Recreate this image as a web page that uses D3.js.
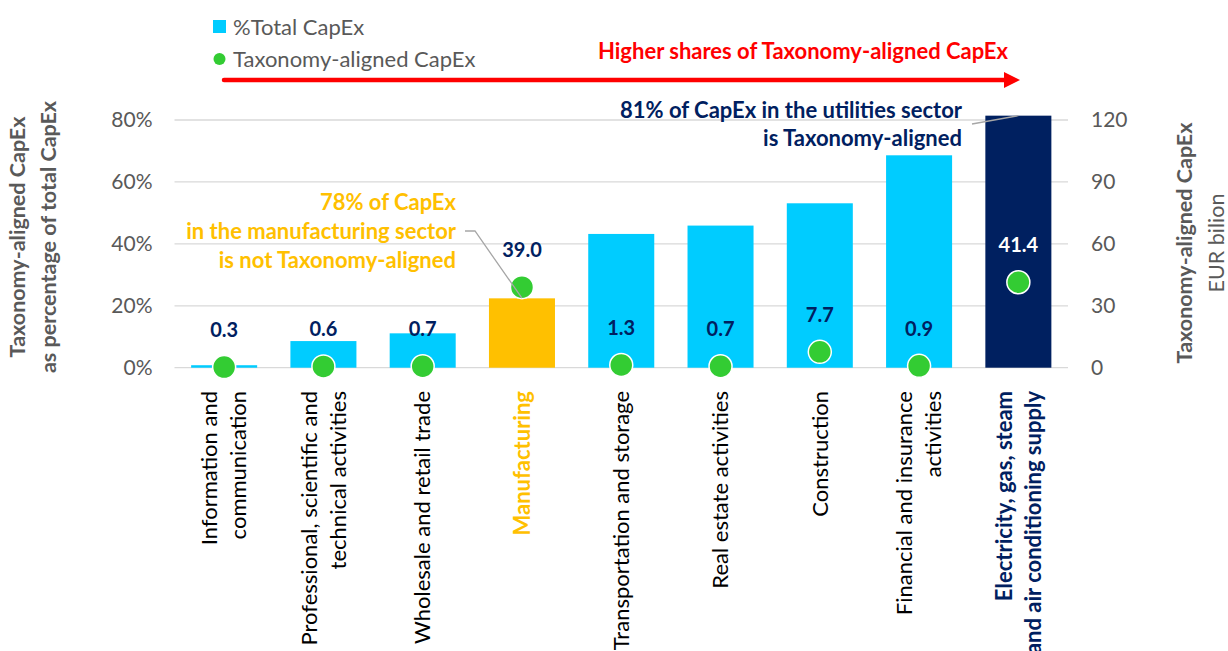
<!DOCTYPE html>
<html>
<head>
<meta charset="utf-8">
<script src="https://cdn.jsdelivr.net/npm/d3@7"></script>
<style>
  html, body { margin: 0; padding: 0; background: #fff; }
  svg { display: block; font-family: "Lato", "Open Sans", sans-serif; }
</style>
</head>
<body>
<svg id="chart" width="1228" height="651"></svg>
<script>
// ---------- DATA ----------
const categories = [
  "Information and communication",
  "Professional, scientific and technical activities",
  "Wholesale and retail trade",
  "Manufacturing",
  "Transportation and storage",
  "Real estate activities",
  "Construction",
  "Financial and insurance activities",
  "Electricity, gas, steam and air conditioning supply"
];
const categoryLines = [
  ["Information and", "communication"],
  ["Professional, scientific and", "technical activities"],
  ["Wholesale and retail trade"],
  ["Manufacturing"],
  ["Transportation and storage"],
  ["Real estate activities"],
  ["Construction"],
  ["Financial and insurance", "activities"],
  ["Electricity, gas, steam", "and air conditioning supply"]
];
// Taxonomy-aligned CapEx as % of total CapEx (bars, left axis)
const pctTotalCapEx = [0.8, 8.6, 11.1, 22.4, 43.2, 45.9, 53.1, 68.6, 81.4];
// Taxonomy-aligned CapEx, EUR billion (dots, right axis)
const alignedCapExEUR = [0.3, 0.6, 0.7, 39.0, 1.3, 0.7, 7.7, 0.9, 41.4];
const leftTicks = [0, 20, 40, 60, 80];
const rightTicks = [0, 30, 60, 90, 120];
const highlight = ["", "", "", "manufacturing", "", "", "", "", "utilities"];

// ---------- STYLE ----------
const C = {
  cyan: "#00ccff", orange: "#ffc000", navy: "#002060", green: "#33cc33",
  red: "#ff0000", axis: "#595959", grid: "#d9d9d9", lead: "#a6a6a6"
};

const svg = d3.select("#chart");
const plot = { left: 174.5, right: 1068, top: 120, bottom: 367.7 };

const x = d3.scaleBand().domain(categories).range([plot.left, plot.right]).paddingInner(0.335).paddingOuter(0.1675);
const yL = d3.scaleLinear().domain([0, 80]).range([plot.bottom, plot.top]);
const yR = d3.scaleLinear().domain([0, 120]).range([plot.bottom, plot.top]);

// gridlines
svg.append("g").selectAll("line").data(leftTicks).join("line")
  .attr("x1", plot.left).attr("x2", plot.right)
  .attr("y1", d => yL(d)).attr("y2", d => yL(d))
  .attr("stroke", C.grid).attr("stroke-width", 1.3);

// left axis
const gL = svg.append("g").attr("transform", `translate(${plot.left - 22},0)`)
  .call(d3.axisLeft(yL).tickValues(leftTicks).tickFormat(d => d + "%").tickSize(0).tickPadding(0));
gL.select(".domain").remove();
gL.selectAll("text").attr("fill", C.axis).style("font-size", "21px").style("font-family", "Lato");

// right axis
const gR = svg.append("g").attr("transform", `translate(${plot.right + 23},0)`)
  .call(d3.axisRight(yR).tickValues(rightTicks).tickSize(0).tickPadding(0));
gR.select(".domain").remove();
gR.selectAll("text").attr("fill", C.axis).style("font-size", "21px").style("font-family", "Lato");

// bars
const barColor = i => highlight[i] === "manufacturing" ? C.orange : highlight[i] === "utilities" ? C.navy : C.cyan;
svg.append("g").selectAll("rect").data(categories).join("rect")
  .attr("x", d => x(d)).attr("width", x.bandwidth())
  .attr("y", (d, i) => yL(pctTotalCapEx[i]))
  .attr("height", (d, i) => yL(0) - yL(pctTotalCapEx[i]))
  .attr("fill", (d, i) => barColor(i));

// dots
svg.append("g").selectAll("circle").data(categories).join("circle")
  .attr("cx", d => x(d) + x.bandwidth() / 2)
  .attr("cy", (d, i) => yR(alignedCapExEUR[i]))
  .attr("r", 11.5)
  .attr("fill", C.green).attr("stroke", "#fff").attr("stroke-width", 1.5);

// value labels
svg.append("g").selectAll("text").data(categories).join("text")
  .attr("x", d => x(d) + x.bandwidth() / 2)
  .attr("y", (d, i) => yR(alignedCapExEUR[i]) - 37)
  .attr("dy", "0.35em")
  .attr("text-anchor", "middle")
  .attr("fill", (d, i) => highlight[i] === "utilities" ? "#ffffff" : C.navy)
  .style("font-size", "20px").style("font-weight", "bold")
  .text((d, i) => alignedCapExEUR[i].toFixed(1));

// category labels (rotated)
const lh = 29;
const catG = svg.append("g").selectAll("g").data(categories).join("g")
  .attr("transform", d => `translate(${x(d) + x.bandwidth() / 2},391) rotate(-90)`);
catG.each(function (d, i) {
  const lines = categoryLines[i];
  const t = d3.select(this).append("text")
    .attr("text-anchor", "end")
    .attr("fill", highlight[i] === "manufacturing" ? C.orange : highlight[i] === "utilities" ? C.navy : "#000")
    .style("font-size", "22px")
    .style("font-weight", highlight[i] ? "bold" : "normal");
  lines.forEach((ln, k) => {
    t.append("tspan").attr("x", 0)
      .attr("y", (k - (lines.length - 1) / 2) * lh)
      .attr("dy", "0.35em").text(ln);
  });
});

// axis titles
const titleL = svg.append("text").attr("transform", "translate(25,237) rotate(-90)")
  .attr("text-anchor", "middle").attr("fill", C.axis)
  .style("font-size", "21.5px").style("font-weight", "bold");
titleL.append("tspan").attr("x", 0).attr("y", 0).text("Taxonomy-aligned CapEx");
titleL.append("tspan").attr("x", 0).attr("y", 31).text("as percentage of total CapEx");

const titleR = svg.append("text").attr("transform", "translate(1192,243) rotate(-90)")
  .attr("text-anchor", "middle").attr("fill", C.axis).style("font-size", "21.5px");
titleR.append("tspan").attr("x", 0).attr("y", 0).style("font-weight", "bold").text("Taxonomy-aligned CapEx");
titleR.append("tspan").attr("x", 0).attr("y", 32).style("font-weight", "normal").text("EUR  bilion");

// legend
const leg = svg.append("g");
leg.append("rect").attr("x", 213).attr("y", 20).attr("width", 13).attr("height", 13).attr("fill", C.cyan);
leg.append("text").attr("x", 233).attr("y", 27).attr("dy", "0.35em").attr("fill", C.axis)
  .style("font-size", "22px").text("%Total CapEx");
leg.append("circle").attr("cx", 219.5).attr("cy", 59).attr("r", 6).attr("fill", C.green);
leg.append("text").attr("x", 233).attr("y", 59).attr("dy", "0.35em").attr("fill", C.axis)
  .style("font-size", "22px").text("Taxonomy-aligned CapEx");

// red arrow
svg.append("line").attr("x1", 224).attr("x2", 1006).attr("y1", 80).attr("y2", 80)
  .attr("stroke", C.red).attr("stroke-width", 4.5).attr("stroke-linecap", "round");
svg.append("path").attr("d", "M1004,72 L1020,80 L1004,88 Z").attr("fill", C.red);
svg.append("text").attr("x", 1008).attr("y", 51).attr("dy", "0.35em").attr("text-anchor", "end")
  .attr("fill", C.red).style("font-size", "22px").style("font-weight", "bold")
  .text("Higher shares of Taxonomy-aligned CapEx");

// utilities annotation
const ut = svg.append("text").attr("text-anchor", "end").attr("fill", C.navy)
  .style("font-size", "22px").style("font-weight", "bold");
ut.append("tspan").attr("x", 962).attr("y", 110).attr("dy", "0.35em").text("81% of CapEx in the utilities sector");
ut.append("tspan").attr("x", 962).attr("y", 138).attr("dy", "0.35em").text("is Taxonomy-aligned");
const uCat = categories[8];
svg.append("path")
  .attr("d", `M972,124 L${x(uCat) + x.bandwidth() / 2},${yL(pctTotalCapEx[8])}`)
  .attr("fill", "none").attr("stroke", C.lead).attr("stroke-width", 1.3);

// manufacturing annotation
const mt = svg.append("text").attr("text-anchor", "end").attr("fill", C.orange)
  .style("font-size", "22px").style("font-weight", "bold");
["78% of CapEx", "in the manufacturing sector", "is not Taxonomy-aligned"].forEach((s, k) => {
  mt.append("tspan").attr("x", 456).attr("y", 202 + k * 29).attr("dy", "0.35em").text(s);
});
const mCat = categories[3];
svg.append("path")
  .attr("d", `M465,231 L475,231 L${x(mCat) + x.bandwidth() / 2},${yR(alignedCapExEUR[3]) + 11}`)
  .attr("fill", "none").attr("stroke", C.lead).attr("stroke-width", 1.3);
</script>
</body>
</html>
